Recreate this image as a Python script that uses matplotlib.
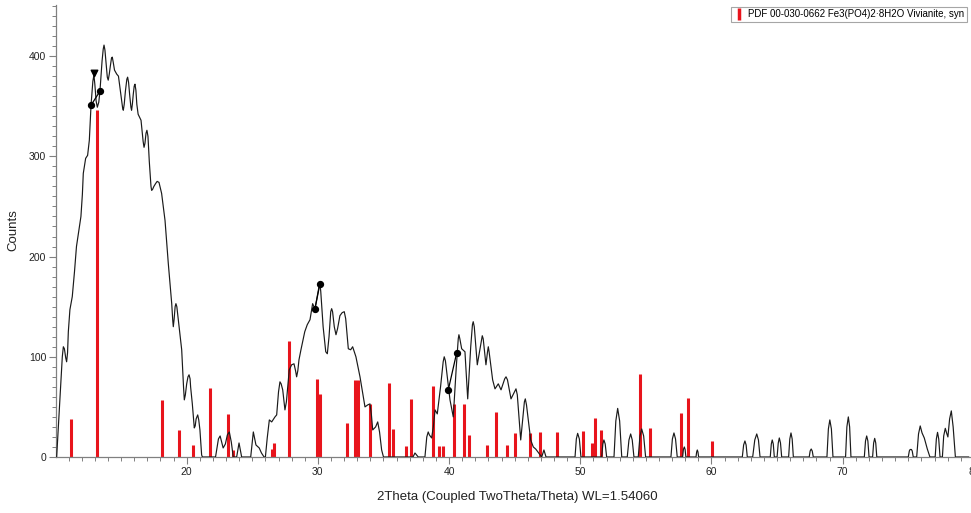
import matplotlib
matplotlib.use("Agg")
import matplotlib.pyplot as plt
from matplotlib.lines import Line2D

plt.rcParams['font.family'] = ['Liberation Sans', 'DejaVu Sans']

# ---- reference pattern (PDF 00-030-0662) : 2theta positions and intensities
ref_pos = [11.16, 13.14, 18.09, 19.44, 20.46, 21.78, 23.12, 23.55, 26.52, 26.68,
           27.80, 29.91, 30.16, 32.24, 32.83, 33.08, 33.97, 35.44, 35.70, 36.69,
           37.10, 38.80, 39.21, 39.51, 40.37, 41.14, 41.54, 42.87, 43.57, 44.39,
           45.02, 46.17, 46.93, 48.20, 50.18, 50.87, 51.12, 51.55, 54.55, 55.31,
           57.65, 58.23, 60.02]
ref_int = [38, 346, 57, 27, 12, 69, 43, 7, 8, 14,
           116, 78, 63, 34, 77, 77, 53, 74, 28, 11,
           58, 71, 11, 11, 53, 53, 22, 12, 45, 12,
           24, 24, 25, 25, 26, 14, 39, 27, 83, 29,
           44, 59, 16]

meas_x = [10.09, 10.35, 10.52, 10.6, 10.68, 10.78, 10.85, 10.92, 10.98, 11.1, 11.28, 11.45, 11.6,
          11.94, 12.05, 12.12, 12.3, 12.45, 12.58, 12.71, 12.85, 12.93, 13.0, 13.1, 13.19,
          13.3, 13.39, 13.55, 13.64, 13.7, 13.77, 13.86, 13.95, 14.02, 14.1, 14.18, 14.27, 14.33,
          14.4, 14.5, 14.67, 14.8,
          15.0, 15.12, 15.17, 15.24, 15.33, 15.44, 15.5, 15.57, 15.65, 15.75, 15.8, 15.86, 15.93,
          16.0, 16.06, 16.13, 16.2, 16.3,
          16.52, 16.68, 16.75, 16.82, 16.9, 16.97, 17.05, 17.15, 17.28, 17.33, 17.4, 17.5, 17.64,
          17.75, 17.89, 18.09,
          18.35, 18.6, 18.86, 18.94, 18.98, 19.04, 19.12, 19.18, 19.25, 19.36, 19.62, 19.76,
          19.82, 19.9, 20.0,
          20.1, 20.18, 20.26, 20.3, 20.43, 20.58, 20.65, 20.72, 20.84, 20.92, 21.01, 21.14, 21.2,
          22.2, 22.42, 22.55, 22.78, 22.95, 23.1, 23.25, 23.4, 23.55,
          23.81, 23.99, 24.19,
          24.88, 25.08, 25.28, 25.53, 25.7, 25.9,
          26.0, 26.14, 26.3, 26.48, 26.73, 26.86, 27.0, 27.11, 27.2, 27.32, 27.49, 27.6,
          27.82, 28.0,
          28.18, 28.3, 28.38, 28.47, 28.56, 28.71, 28.84, 29.0, 29.19, 29.4, 29.6, 29.78, 29.95,
          30.1, 30.16, 30.22, 30.4, 30.6, 30.72, 30.85, 30.98, 31.05, 31.12, 31.25, 31.38, 31.5,
          31.68, 31.85, 32.01, 32.12, 32.32, 32.5, 32.65, 32.9, 33.21,
          33.59, 33.8, 33.97, 34.08, 34.18, 34.4, 34.56, 34.7, 34.86, 35.0,
          36.26, 37.25, 37.40, 37.65,
          38.16, 38.3, 38.41, 38.5, 38.67, 38.8, 38.93, 39.10, 39.35, 39.55, 39.63, 39.72,
          40.07, 40.32, 40.55,
          40.7, 40.75, 40.82, 40.96, 41.21, 41.42, 41.65, 41.78, 41.84, 41.92, 42.15, 42.45,
          42.53, 42.6, 42.81, 42.93, 42.99, 43.05,
          43.32, 43.5, 43.75, 43.96, 44.24, 44.34, 44.45, 44.72, 45.02, 45.1, 45.2, 45.46,
          45.74, 45.81, 45.9, 46.22,
          46.42, 46.6, 46.83, 47.06, 47.23, 47.39,
          49.6, 49.7, 49.8, 49.93, 50.05,
          51.63, 51.72, 51.8, 51.9, 52.01,
          52.57, 52.71, 52.85, 53.0, 53.16,
          53.58, 53.71, 53.84, 53.96, 54.09,
          54.42, 54.55, 54.68, 54.83, 54.98,
          56.91, 57.02, 57.14, 57.26, 57.39,
          57.8, 57.86, 57.93, 57.99, 58.05,
          58.82, 58.87, 58.92, 58.97, 59.02,
          62.35, 62.45, 62.55, 62.64, 62.73,
          63.14, 63.3, 63.45, 63.58, 63.7,
          64.48, 64.56, 64.63, 64.71, 64.79,
          65.0, 65.09, 65.17, 65.26, 65.35,
          65.88, 65.97, 66.06, 66.15, 66.24,
          67.45, 67.52, 67.6, 67.68, 67.76,
          68.8, 68.91, 69.02, 69.14, 69.26,
          70.22, 70.32, 70.43, 70.53, 70.63,
          71.65, 71.74, 71.83, 71.92, 72.01,
          72.28, 72.36, 72.44, 72.52, 72.6,
          75.0, 75.08, 75.14, 75.24, 75.3, 75.38,
          75.64, 75.78, 75.91, 76.05, 76.22, 76.45, 76.65,
          77.05, 77.14, 77.23, 77.32, 77.42,
          77.6, 77.7, 77.82, 77.92, 78.02, 78.15, 78.28, 78.42, 78.59, 79.6]
meas_y = [0, 60, 100, 110, 108, 99, 95, 104, 125, 147, 160, 185, 210,
          240, 262, 283, 298, 301, 316, 351, 375, 381, 372, 355, 349,
          354, 365, 395, 407, 411, 406, 392, 379, 376, 382, 390, 398, 399,
          394, 386, 382, 380,
          360, 348, 346, 352, 365, 377, 379, 374, 362, 349, 346, 352, 362,
          370, 372, 366, 352, 342,
          336, 315, 309, 313, 323, 326, 320, 295, 270, 266, 267, 270, 273,
          275, 274, 263,
          236, 193, 153, 136, 130, 137, 150, 153, 150, 137, 107, 70,
          57, 62, 73,
          80, 82, 78, 70, 53, 29, 31, 38, 42, 37, 27, 2, 0,
          0, 18, 21, 9, 13, 22, 25, 15, 0,
          0, 14, 0,
          0, 25, 12, 9, 4, 0,
          0, 19, 37, 35, 40, 42, 65, 75, 73, 67, 47, 55,
          87, 92,
          93, 86, 80, 86, 97, 107, 115, 125, 132, 137, 153, 148, 160,
          171, 173, 165, 130, 105, 103, 120, 145, 148, 145, 130, 122, 128,
          141, 144, 145, 138, 108, 107, 110, 100, 80,
          50, 52, 53, 42, 27, 30, 35, 25, 7, 0,
          0, 0, 4, 0,
          0, 20, 25, 22, 19, 30, 47, 43, 70, 95, 100, 96,
          57, 40, 90,
          118, 122, 118, 108, 105, 58, 110, 132, 135, 130, 92, 115,
          121, 118, 92, 105, 110, 105,
          77, 68, 73, 67, 78, 80, 77, 58, 66, 68, 62, 17,
          55, 58, 52, 17,
          10, 8, 4, 0, 7, 0,
          0, 18, 23.6, 18, 0,
          0, 13, 17, 13, 0,
          0, 36, 48.5, 36, 0,
          0, 17, 23, 17, 0,
          0, 21, 28, 21, 0,
          0, 18, 24, 18, 0,
          0, 7.5, 10, 7.5, 0,
          0, 5, 7, 5, 0,
          0, 12, 16, 12, 0,
          0, 17, 23, 17, 0,
          0, 13, 17, 13, 0,
          0, 14, 19, 14, 0,
          0, 18, 24, 18, 0,
          0, 6, 8, 6, 0,
          0, 28, 37, 28, 0,
          0, 30, 40, 30, 0,
          0, 16, 21, 16, 0,
          0, 14, 18.6, 14, 0,
          0, 6, 7.5, 7.5, 6, 0,
          0, 23, 31, 24, 19, 8, 0,
          0, 18, 24.6, 18, 0,
          0, 21, 28.6, 24, 20, 38, 46, 30, 0, 0]

# ---- peak markers (dot pairs and apex triangle)
dot_x = [12.71, 13.39, 29.78, 30.16, 39.94, 40.58]
dot_y = [351, 365, 148, 173, 67, 104]
apex_x = [12.93]
apex_y = [383]

legend_label = "PDF 00-030-0662 Fe3(PO4)2\u00b78H2O Vivianite, syn"

W, H = 971, 513
fig = plt.figure(figsize=(W / 100, H / 100), dpi=100)
ax = fig.add_axes([56 / W, 56 / H, (987 - 56) / W, (457 - 5) / H])
ax.set_xlim(10.04, 81)
ax.set_ylim(0, 451)

ax.vlines(ref_pos, 0, ref_int, colors='#e8141c', linewidth=2.2, zorder=2)
ax.plot(meas_x, meas_y, color='#1a1a1a', linewidth=0.85, zorder=3)

for i in range(0, len(dot_x), 2):
    ax.plot(dot_x[i:i + 2], dot_y[i:i + 2], color='black', linewidth=0.9, zorder=4)
ax.scatter(dot_x, dot_y, s=18, color='black', zorder=5)
ax.scatter(apex_x, apex_y, marker='v', s=22, color='black', zorder=5)

for s in ['top', 'right']:
    ax.spines[s].set_visible(False)
for s in ['left', 'bottom']:
    ax.spines[s].set_color('#808080')
    ax.spines[s].set_linewidth(0.9)

ax.set_xticks(range(20, 81, 10))
ax.set_xticks(range(11, 81, 1), minor=True)
ax.set_yticks(range(0, 401, 100))
ax.set_yticks(range(0, 451, 10), minor=True)
ax.tick_params(axis='both', which='major', direction='out', length=5, width=0.8,
               color='#808080', labelsize=7.5, labelcolor='#222222', pad=2)
ax.tick_params(axis='both', which='minor', direction='out', length=3, width=0.7,
               color='#808080')

fig.text(13 / W, 1 - 230 / H, 'Counts', rotation=90, ha='center', va='center',
         fontsize=9.5, color='#222222')
fig.text(517 / W, 1 - 497 / H, '2Theta (Coupled TwoTheta/Theta) WL=1.54060',
         ha='center', va='center', fontsize=9.5, color='#222222')

handle = Line2D([], [], color='#e8141c', marker='|', linestyle='None',
                markersize=9, markeredgewidth=2.5)
leg = fig.legend([handle], [legend_label], loc='upper right',
                 bbox_to_anchor=(967 / W, 1 - 7 / H), bbox_transform=fig.transFigure,
                 fontsize=7, frameon=True, fancybox=False, borderpad=0.25,
                 handlelength=1.0, handletextpad=0.5, borderaxespad=0)
leg.get_frame().set_edgecolor('#909090')
leg.get_frame().set_linewidth(0.8)

fig.savefig('out.png', dpi=100)
